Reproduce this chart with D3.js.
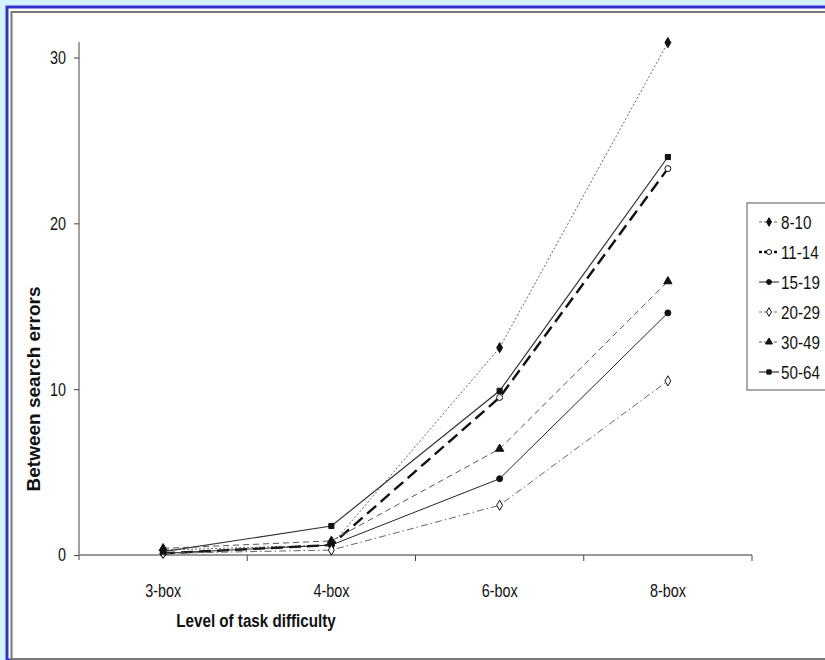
<!DOCTYPE html>
<html>
<head>
<meta charset="utf-8">
<script src="https://cdn.jsdelivr.net/npm/d3@7"></script>
<style>
  html, body { margin: 0; padding: 0; background: #d3f1fe; }
  svg { display: block; }
</style>
</head>
<body>
<div id="chart"></div>
<script>
// Data
const categories = ["3-box", "4-box", "6-box", "8-box"];
const seriesNames = ["8-10", "11-14", "15-19", "20-29", "30-49", "50-64"];
const v8_10  = [0.3, 0.6, 12.5, 30.9];
const v11_14 = [0.1, 0.6, 9.5, 23.3];
const v15_19 = [0.1, 0.6, 4.6, 14.6];
const v20_29 = [0.1, 0.3, 3.0, 10.5];
const v30_49 = [0.4, 0.85, 6.4, 16.5];
const v50_64 = [0.2, 1.75, 9.9, 24.0];
const yTicks = [0, 10, 20, 30];

const seriesValues = [v8_10, v11_14, v15_19, v20_29, v30_49, v50_64];

// line / marker styles per series
const styles = [
  { dash: "2,2",        width: 1,   stroke: "#666", sym: d3.symbolDiamond,  fill: "#111", size: 30 },
  { dash: "12,6",       width: 2.4, stroke: "#111", sym: d3.symbolCircle,   fill: "#fff", size: 28 },
  { dash: null,         width: 1,   stroke: "#222", sym: d3.symbolCircle,   fill: "#111", size: 28 },
  { dash: "7,3,1.5,3",  width: 1,   stroke: "#666", sym: d3.symbolDiamond,  fill: "#fff", size: 30 },
  { dash: "6,4",        width: 1,   stroke: "#555", sym: d3.symbolTriangle, fill: "#111", size: 30 },
  { dash: null,         width: 1.2, stroke: "#333", sym: d3.symbolSquare,   fill: "#111", size: 26 }
];

const FONT = "'Liberation Sans', Arial, sans-serif";
const NARROW = 0.8;   // horizontal squeeze to mimic Arial Narrow

// text helper: narrow, positioned by translate so the squeeze keeps its anchor
function narrowText(parent, x, y, txt, size, opts = {}) {
  return parent.append("text")
    .attr("transform", `translate(${x},${y}) scale(${NARROW},1)`)
    .attr("text-anchor", opts.anchor || "middle")
    .attr("dy", opts.dy || null)
    .attr("font-family", FONT)
    .attr("font-size", size)
    .attr("font-weight", opts.bold ? "bold" : null)
    .attr("fill", "#111")
    .text(txt);
}

const fullW = 825, fullH = 660;
const svg = d3.select("#chart").append("svg")
  .attr("width", fullW).attr("height", fullH);

// frame
svg.append("rect").attr("x", 0).attr("y", 0).attr("width", fullW).attr("height", fullH).attr("fill", "#d3f1fe");
svg.append("rect").attr("x", 7).attr("y", 7).attr("width", fullW).attr("height", fullH - 7)
  .attr("fill", "#fff").attr("stroke", "#3333cc").attr("stroke-width", 3);
svg.append("rect").attr("x", 11.5).attr("y", 12).attr("width", fullW).attr("height", 647)
  .attr("fill", "#fff").attr("stroke", "#777").attr("stroke-width", 2);

// Scales
const x = d3.scaleBand().domain(categories).range([79, 752]).padding(0);
const y = d3.scaleLinear().domain([0, 30]).range([555, 57.5]);
const cx = c => x(c) + x.bandwidth() / 2;

// Y axis (ticks via d3 axis, labels drawn narrow)
const yAxisG = svg.append("g").attr("transform", "translate(79,0)")
  .call(d3.axisLeft(y).tickValues(yTicks).tickSize(5).tickFormat(""));
yAxisG.select(".domain").remove();
yAxisG.selectAll(".tick line").attr("stroke", "#444");
yTicks.forEach(t => narrowText(svg, 66, y(t), t, 18, { anchor: "end", dy: "0.36em" }));
svg.append("line").attr("x1", 79).attr("x2", 79).attr("y1", 42).attr("y2", 560)
  .attr("stroke", "#444").attr("stroke-width", 1);

// X axis
svg.append("line").attr("x1", 79).attr("x2", 752).attr("y1", y(0)).attr("y2", y(0))
  .attr("stroke", "#777").attr("stroke-width", 1.6);
categories.forEach(c => {
  svg.append("line")
    .attr("x1", x(c) + x.bandwidth()).attr("x2", x(c) + x.bandwidth())
    .attr("y1", y(0)).attr("y2", y(0) + 6)
    .attr("stroke", "#444");
  narrowText(svg, cx(c), 597, c, 18);
});

// Axis labels
narrowText(svg, 256, 627, "Level of task difficulty", 19, { bold: true });

svg.append("text")
  .attr("transform", "translate(40,389) rotate(-90)")
  .attr("text-anchor", "middle")
  .attr("font-family", FONT)
  .attr("font-weight", "bold").attr("font-size", 19)
  .attr("fill", "#111")
  .text("Between search errors");

// Lines
const line = d3.line()
  .x((d, i) => cx(categories[i]))
  .y(d => y(d));

const seriesG = svg.selectAll(".series").data(seriesValues).enter().append("g");
seriesG.append("path")
  .attr("fill", "none")
  .attr("d", d => line(d))
  .attr("stroke", (d, i) => styles[i].stroke)
  .attr("stroke-width", (d, i) => styles[i].width)
  .attr("stroke-dasharray", (d, i) => styles[i].dash);

seriesG.each(function(vals, si) {
  const st = styles[si];
  d3.select(this).selectAll("path.mk").data(vals).enter().append("path")
    .attr("class", "mk")
    .attr("d", d3.symbol().type(st.sym).size(st.size))
    .attr("transform", (d, i) => `translate(${cx(categories[i])},${y(d)})`)
    .attr("fill", st.fill)
    .attr("stroke", "#111")
    .attr("stroke-width", 1);
});

// Legend
const leg = svg.append("g");
leg.append("rect").attr("x", 747).attr("y", 203).attr("width", 90).attr("height", 187)
  .attr("fill", "#fff").attr("stroke", "#555").attr("stroke-width", 1);
seriesNames.forEach((name, i) => {
  const st = styles[i];
  const ry = 222 + i * 30;
  leg.append("line").attr("x1", 759).attr("x2", 779).attr("y1", ry).attr("y2", ry)
    .attr("stroke", st.stroke)
    .attr("stroke-width", st.width)
    .attr("stroke-dasharray", st.dash ? "3,2" : null);
  leg.append("path")
    .attr("d", d3.symbol().type(st.sym).size(st.size * 0.7)())
    .attr("transform", `translate(769,${ry})`)
    .attr("fill", st.fill)
    .attr("stroke", "#111");
  narrowText(leg, 781, ry, name, 19, { anchor: "start", dy: "0.36em" });
});
</script>
</body>
</html>
